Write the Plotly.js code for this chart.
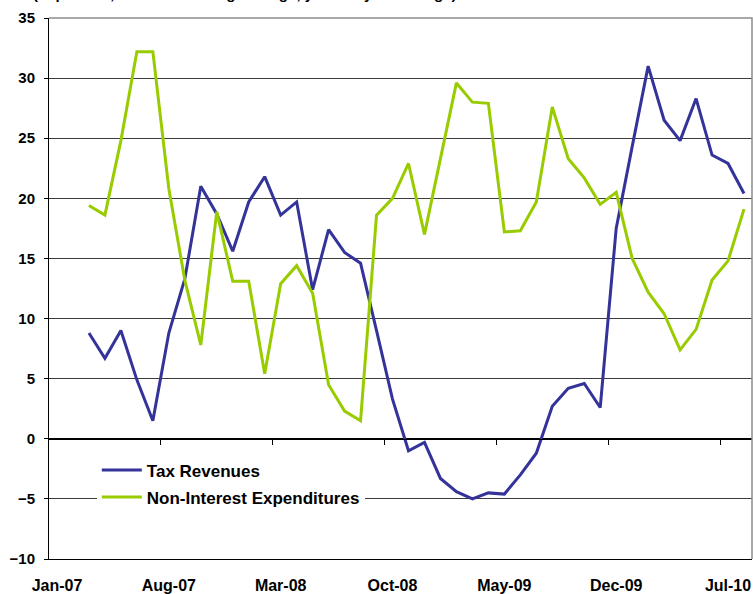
<!DOCTYPE html>
<html>
<head>
<meta charset="utf-8">
<script src="https://cdn.plot.ly/plotly-3.0.1.min.js"></script>
<style>html,body{margin:0;padding:0;background:#fff;}#chart{width:753px;height:594px;}</style>
</head>
<body>
<div id="chart"></div>
<script>
const months = ["Jan-07","Feb-07","Mar-07","Apr-07","May-07","Jun-07","Jul-07","Aug-07","Sep-07","Oct-07","Nov-07","Dec-07",
"Jan-08","Feb-08","Mar-08","Apr-08","May-08","Jun-08","Jul-08","Aug-08","Sep-08","Oct-08","Nov-08","Dec-08",
"Jan-09","Feb-09","Mar-09","Apr-09","May-09","Jun-09","Jul-09","Aug-09","Sep-09","Oct-09","Nov-09","Dec-09",
"Jan-10","Feb-10","Mar-10","Apr-10","May-10","Jun-10","Jul-10","Aug-10"];
const taxRevenues = [null,null,8.8,6.7,9.0,4.9,1.5,8.8,13.3,21.0,18.7,15.6,
19.7,21.8,18.6,19.7,12.4,17.4,15.5,14.6,9.0,3.3,-1.0,-0.3,
-3.3,-4.4,-5.0,-4.5,-4.6,-3.0,-1.2,2.7,4.2,4.6,2.6,17.5,
24.3,31.0,26.5,24.8,28.3,23.6,22.9,20.4];
const nonInterestExp = [null,null,19.4,18.6,24.8,32.2,32.2,20.8,13.2,7.8,18.9,13.1,
13.1,5.4,12.9,14.4,12.1,4.5,2.3,1.5,18.6,20.0,22.9,17.0,
23.3,29.6,28.0,27.9,17.2,17.3,19.7,27.6,23.3,21.7,19.5,20.5,
15.0,12.2,10.4,7.4,9.1,13.2,14.8,19.1];
const tickLabels = ["Jan-07","Aug-07","Mar-08","Oct-08","May-09","Dec-09","Jul-10"];
const seriesNames = ["Tax Revenues","Non-Interest Expenditures"];
const yTicks = [-10,-5,0,5,10,15,20,25,30,35];
const titleText = "(In percent; 3-month moving average, year-on-year change)";

const xIdx = months.map((m,i)=>i);
const labelIdx = tickLabels.map(l=>months.indexOf(l));
const boundaryIdx = labelIdx.slice(1).map(i=>i-0.5);
const FONT = "Liberation Sans, Arial, sans-serif";

const traces = [
  {x:xIdx, y:taxRevenues, name:seriesNames[0], type:"scatter", mode:"lines",
   line:{color:"#333399", width:3}, legendgroup:"a", connectgaps:false, hoverinfo:"skip"},
  {x:xIdx, y:nonInterestExp, name:seriesNames[1], type:"scatter", mode:"lines",
   line:{color:"#99CC00", width:3}, legendgroup:"b", connectgaps:false, hoverinfo:"skip"},
  {x:xIdx, y:xIdx.map(()=>null), xaxis:"x2", yaxis:"y", showlegend:false, hoverinfo:"skip", mode:"lines"}
];

const layout = {
  width:753, height:594,
  margin:{l:49, r:1, t:18, b:35, pad:0},
  paper_bgcolor:"#fff", plot_bgcolor:"#fff",
  showlegend:true,
  legend:{x:0.068, y:0.197, xanchor:"left", yanchor:"top", bgcolor:"#fff", borderwidth:0,
    font:{family:FONT, size:17, color:"#000", weight:700}, tracegroupgap:2, traceorder:"grouped", itemwidth:40},
  xaxis:{range:[-0.5,43.5], anchor:"free", position:10/45, showgrid:false, zeroline:false,
    showline:true, linecolor:"#000", linewidth:1,
    tickmode:"array", tickvals:boundaryIdx, ticks:"outside", ticklen:5, tickcolor:"#000", showticklabels:false},
  xaxis2:{range:[-0.5,43.5], overlaying:"x", anchor:"y", side:"bottom", showgrid:false, zeroline:false,
    showline:true, linecolor:"#000", linewidth:1,
    tickmode:"array", tickvals:labelIdx, ticktext:tickLabels, ticks:"", ticklabelstandoff:12,
    tickfont:{family:FONT, size:16, color:"#000", weight:700}},
  yaxis:{range:[-10,35], tickmode:"array", tickvals:yTicks, ticks:"outside", ticklen:4, tickcolor:"#000",
    showline:true, linecolor:"#000", linewidth:1, showgrid:true, gridcolor:"#3c3c3c", gridwidth:1,
    zeroline:true, zerolinecolor:"#000", zerolinewidth:1, ticklabelstandoff:6,
    tickfont:{family:FONT, size:15, color:"#000", weight:700}},
  shapes:[{type:"path", xref:"paper", yref:"paper", path:"M0,1 L1,1 L1,0", line:{color:"#8c8c8c", width:1.5}, layer:"above"}],
  annotations:[{text:titleText, xref:"paper", yref:"paper", x:-0.025, y:1, xanchor:"left", yanchor:"bottom",
    yshift:14, showarrow:false, font:{family:FONT, size:15, color:"#000", weight:700}}]
};

Plotly.newPlot("chart", traces, layout, {displayModeBar:false, staticPlot:true});
</script>
</body>
</html>
